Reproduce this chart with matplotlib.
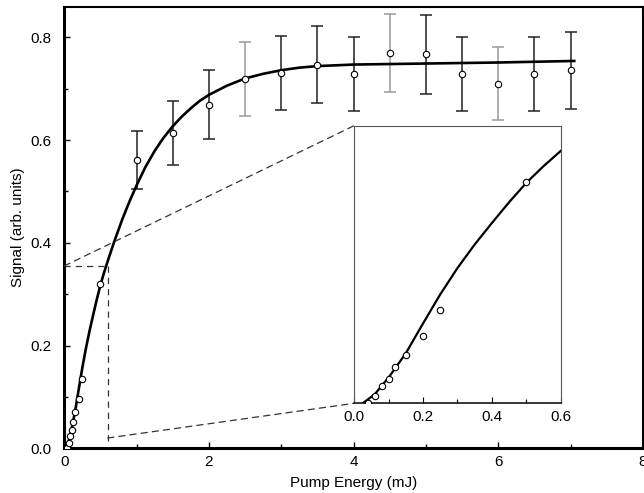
import matplotlib
matplotlib.use("Agg")
import matplotlib.pyplot as plt
from matplotlib.patches import ConnectionPatch

plt.rcParams['font.family'] = ['Liberation Sans', 'DejaVu Sans']

# Data with error bars (high energy)
energy_err = [1.0, 1.5, 2.0, 2.5, 3.0, 3.5, 4.0, 4.5, 5.0, 5.5, 6.0, 6.5, 7.0]
signal_err = [0.561, 0.614, 0.669, 0.719, 0.730, 0.747, 0.728, 0.770, 0.767, 0.728, 0.710, 0.728, 0.736]
errors = [0.056, 0.062, 0.067, 0.072, 0.072, 0.075, 0.072, 0.076, 0.077, 0.072, 0.071, 0.072, 0.075]
err_grey = [False, False, False, True, False, False, False, True, False, False, True, False, False]

# Low-energy data (no error bars)
energy_low = [0.04, 0.06, 0.08, 0.10, 0.12, 0.15, 0.20, 0.25, 0.50]
signal_low = [0.0, 0.011, 0.0245, 0.0356, 0.052, 0.070, 0.0967, 0.134, 0.319]

# Fitted curve
fit_x = [0.025, 0.06, 0.10, 0.15, 0.20, 0.25, 0.30, 0.35, 0.40, 0.45, 0.50, 0.55, 0.60,
         0.685, 0.80, 0.90, 1.00, 1.12, 1.25, 1.37, 1.50, 1.62, 1.75, 1.87, 2.00, 2.25,
         2.50, 2.75, 3.00, 3.25, 3.50, 4.00, 5.00, 6.00, 7.05]
fit_y = [0.0, 0.013, 0.037, 0.072, 0.115, 0.157, 0.195, 0.229, 0.260, 0.290, 0.318, 0.342, 0.364,
         0.400, 0.445, 0.480, 0.512, 0.547, 0.579, 0.604, 0.627, 0.645, 0.662, 0.676, 0.688, 0.706,
         0.720, 0.729, 0.736, 0.741, 0.744, 0.747, 0.749, 0.751, 0.754]

# Zoom region markers
zoom_y = 0.355
zoom_x = 0.6
zoom_bottom = 0.01
zoom_link_bottom = 0.02

fig = plt.figure(figsize=(6.44, 4.93), dpi=100)
ax = fig.add_axes([0.0998, 0.0907, 0.8986, 0.8961])

dark = '#222222'
grey = '#999999'
fs = 11

ax.plot(fit_x, fit_y, color='black', lw=1.9, zorder=3, solid_joinstyle='round')
for x, y, e, g in zip(energy_err, signal_err, errors, err_grey):
    ax.errorbar([x], [y], yerr=[e], fmt='none', ecolor=grey if g else dark,
                elinewidth=1.1, capsize=4.3, capthick=1.1, zorder=2)
ax.plot(energy_err, signal_err, 'o', ms=4.6, mfc='white', mec='black', mew=0.8, zorder=4)
ax.plot(energy_low, signal_low, 'o', ms=4.6, mfc='white', mec='black', mew=0.8, zorder=4)

# dashed zoom rectangle
dash = dict(color='#333333', lw=0.9, ls=(0, (5, 4)), zorder=1)
ax.plot([0, zoom_x], [zoom_y, zoom_y], **dash)
ax.plot([zoom_x, zoom_x], [zoom_y, zoom_bottom], **dash)

ax.set_xlim(0, 8)
ax.set_ylim(0, 0.86)
ax.set_xticks([0, 2, 4, 6, 8])
ax.set_xticks([1, 3, 5, 7], minor=True)
ax.set_yticks([0.0, 0.2, 0.4, 0.6, 0.8])
ax.set_yticks([0.1, 0.3, 0.5, 0.7], minor=True)
ax.set_yticklabels(['0.0', '0.2', '0.4', '0.6', '0.8'])
ax.tick_params(which='both', direction='in', labelsize=fs, width=1.0)
ax.tick_params(which='major', length=4)
ax.tick_params(which='minor', length=3)
ax.tick_params(axis='x', pad=5)
ax.tick_params(axis='y', pad=9)
for s in ['left', 'bottom']:
    ax.spines[s].set_linewidth(2.2)
for s in ['top', 'right']:
    ax.spines[s].set_linewidth(1.5)
ax.set_xlabel('Pump Energy (mJ)', fontsize=fs, labelpad=5)
ax.set_ylabel('Signal (arb. units)', fontsize=fs, labelpad=4)

# inset
axi = fig.add_axes([0.5497, 0.1819, 0.3214, 0.5631])
axi.plot(fit_x, fit_y, color='black', lw=1.6, zorder=3, solid_joinstyle='round')
axi.plot(energy_low, signal_low, 'o', ms=4.6, mfc='white', mec='black', mew=0.8, zorder=4)
axi.set_xlim(0, 0.6)
axi.set_ylim(0, 0.4)
axi.set_xticks([0.0, 0.2, 0.4, 0.6])
axi.set_xticklabels(['0.0', '0.2', '0.4', '0.6'])
axi.set_xticks([0.1, 0.3, 0.5], minor=True)
axi.set_yticks([])
axi.tick_params(which='both', direction='in', labelsize=fs, width=0.8, pad=5)
axi.tick_params(which='major', length=4)
axi.tick_params(which='minor', length=3)
for s in ['left', 'top', 'right']:
    axi.spines[s].set_linewidth(0.8)
    axi.spines[s].set_color('#555555')
axi.spines['bottom'].set_linewidth(1.1)

con1 = ConnectionPatch(xyA=(0, zoom_y), coordsA=ax.transData,
                       xyB=(0, 1), coordsB=axi.transAxes, **dash)
con2 = ConnectionPatch(xyA=(zoom_x, zoom_link_bottom), coordsA=ax.transData,
                       xyB=(0, 0), coordsB=axi.transAxes, **dash)
fig.add_artist(con1)
fig.add_artist(con2)

fig.savefig('out.png', dpi=100)
